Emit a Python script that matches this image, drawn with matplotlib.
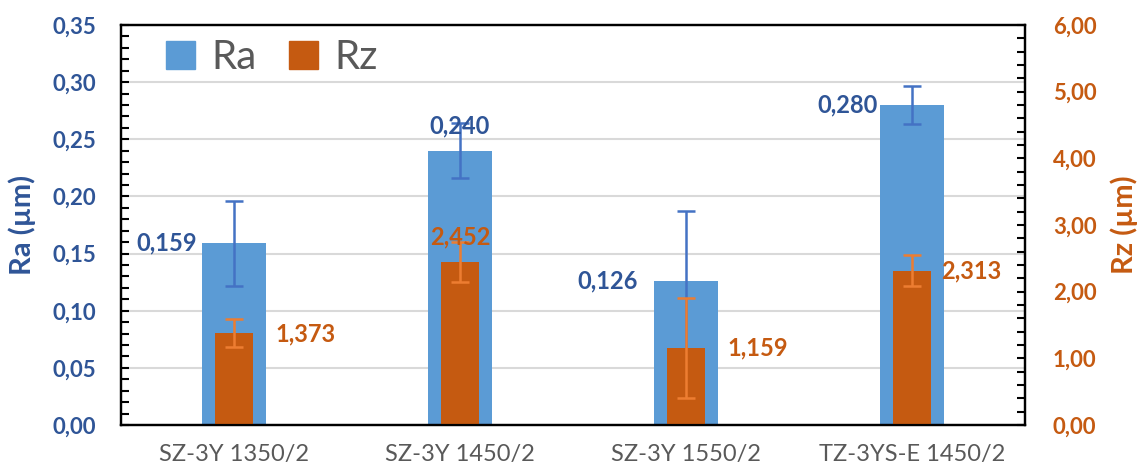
import numpy as np
import matplotlib.pyplot as plt
from matplotlib.ticker import MultipleLocator, FuncFormatter
from matplotlib.patches import Patch

plt.rcParams['font.family'] = ['Lato', 'DejaVu Sans']

samples = ["SZ-3Y 1350/2", "SZ-3Y 1450/2", "SZ-3Y 1550/2", "TZ-3YS-E 1450/2"]
ra = [0.159, 0.240, 0.126, 0.280]
ra_err = [0.037, 0.024, 0.061, 0.017]
rz = [1.373, 2.452, 1.159, 2.313]
rz_err = [0.21, 0.30, 0.75, 0.23]

# where each value label goes: "side" = next to the bar, "top" = above it
ra_lab = ["side", "top", "side", "side"]
ra_gap = [4, 18, 12, 2]
rz_lab = ["side", "top", "side", "side"]
rz_gap = [16, 18, 16, 7]

blue = "#5B9BD5"
blue_err = "#4472C4"
blue_txt = "#2F5597"
orange = "#C55A11"
orange_err = "#ED7D31"
gray_txt = "#595959"

comma = FuncFormatter(lambda v, p: f"{v:.2f}".replace(".", ","))

fig = plt.figure(figsize=(11.43, 4.73), dpi=100)
ax = fig.add_axes([0.1059, 0.1015, 0.7909, 0.8456])
ax2 = ax.twinx()

x = np.arange(len(samples))
w_ra = 0.28
w_rz = 0.168

ax.bar(x, ra, w_ra, color=blue, zorder=2)
ax.errorbar(x, ra, yerr=ra_err, fmt="none", ecolor=blue_err, elinewidth=1.8,
            capsize=6.5, capthick=1.8, zorder=3)
ax2.bar(x, rz, w_rz, color=orange, zorder=2)
ax2.errorbar(x, rz, yerr=rz_err, fmt="none", ecolor=orange_err, elinewidth=1.8,
             capsize=6.5, capthick=1.8, zorder=3)

for i, v in enumerate(ra):
    txt = f"{v:.3f}".replace(".", ",")
    if ra_lab[i] == "top":
        ax.annotate(txt, (x[i], v), xytext=(0, ra_gap[i]), textcoords="offset points",
                    ha="center", va="center", color=blue_txt, fontsize=17, fontweight="bold", zorder=4)
    else:
        ax.annotate(txt, (x[i] - w_ra / 2, v), xytext=(-ra_gap[i], 0), textcoords="offset points",
                    ha="right", va="center", color=blue_txt, fontsize=17, fontweight="bold")

for i, v in enumerate(rz):
    txt = f"{v:.3f}".replace(".", ",")
    if rz_lab[i] == "top":
        ax2.annotate(txt, (x[i], v), xytext=(0, rz_gap[i]), textcoords="offset points",
                     ha="center", va="center", color=orange, fontsize=17, fontweight="bold")
    else:
        ax2.annotate(txt, (x[i] + w_rz / 2, v), xytext=(rz_gap[i], 0), textcoords="offset points",
                     ha="left", va="center", color=orange, fontsize=17, fontweight="bold")

ax.set_xlim(-0.5, len(samples) - 0.5)
ax.set_ylim(0, 0.35)
ax2.set_ylim(0, 6)

ax.yaxis.set_major_locator(MultipleLocator(0.05))
ax.yaxis.set_minor_locator(MultipleLocator(0.01))
ax.yaxis.set_major_formatter(comma)
ax2.yaxis.set_major_locator(MultipleLocator(1))
ax2.yaxis.set_minor_locator(MultipleLocator(0.2))
ax2.yaxis.set_major_formatter(comma)

ax.grid(axis="y", color="#D9D9D9", linewidth=1.5)
ax.set_axisbelow(True)

ax.tick_params(axis="y", which="both", direction="in", length=6, width=1.5,
               labelcolor=blue_txt, labelsize=16, pad=18)
ax2.tick_params(axis="y", which="both", direction="in", length=6, width=1.5,
                labelcolor=orange, labelsize=16, pad=20)
for lab in ax.get_yticklabels():
    lab.set_fontweight("bold")
for lab in ax2.get_yticklabels():
    lab.set_fontweight("bold")

ax.set_xticks(x)
ax.set_xticklabels(samples, fontsize=17, color=gray_txt)
ax.tick_params(axis="x", length=0, pad=14)

for a in (ax, ax2):
    for s in a.spines.values():
        s.set_linewidth(1.6)
        s.set_color("black")

ax.set_ylabel("Ra (µm)", color=blue_txt, fontsize=21, fontweight="bold", labelpad=12)
ax2.set_ylabel("Rz (µm)", color=orange, fontsize=21, fontweight="bold", labelpad=10)

handles = [Patch(color=blue), Patch(color=orange)]
ax.legend(handles, ["Ra", "Rz"], loc="upper left", bbox_to_anchor=(0.01, 1.055),
          frameon=False, fontsize=29, labelcolor=gray_txt, handlelength=0.72,
          handleheight=0.7, handletextpad=0.4, columnspacing=0.8, ncol=2)

fig.savefig("out.png", dpi=100)
